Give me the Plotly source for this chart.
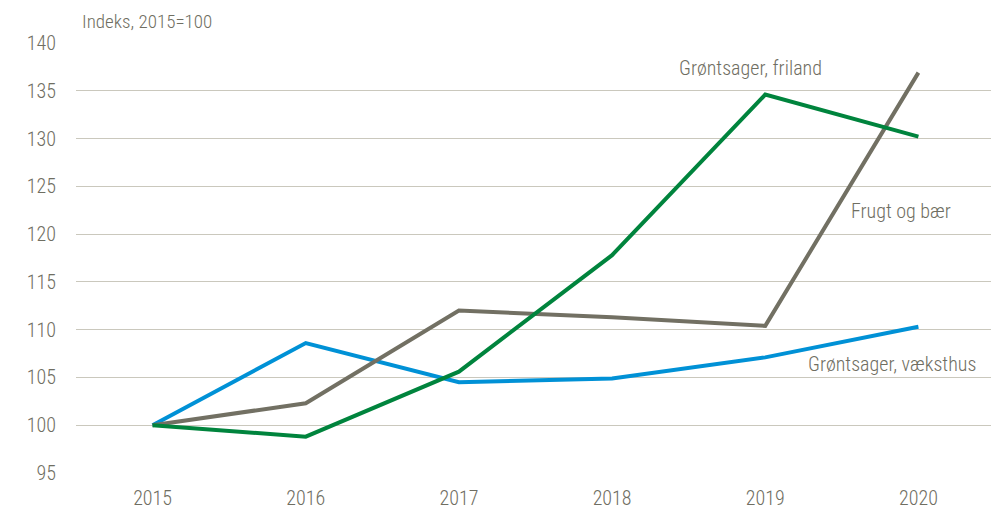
import plotly.graph_objects as go

years = ["2015", "2016", "2017", "2018", "2019", "2020"]
friland = [100, 98.8, 105.6, 117.8, 134.6, 130.2]
frugt = [100, 102.3, 112.0, 111.3, 110.4, 136.9]
vaeksthus = [100, 108.6, 104.5, 104.9, 107.1, 110.3]
y_ticks = [95, 100, 105, 110, 115, 120, 125, 130, 135, 140]

FONT = "Roboto Condensed, Arial Narrow, sans-serif"
TXT = "#6f6e62"
W = 300

def f(size):
    return dict(family=FONT, size=size, color=TXT, weight=W)

fig = go.Figure()
fig.add_trace(go.Scatter(x=years, y=vaeksthus, mode="lines", line=dict(color="#0091d6", width=4), name="Grøntsager, væksthus"))
fig.add_trace(go.Scatter(x=years, y=frugt, mode="lines", line=dict(color="#727063", width=4), name="Frugt og bær"))
fig.add_trace(go.Scatter(x=years, y=friland, mode="lines", line=dict(color="#00843d", width=4), name="Grøntsager, friland"))

fig.update_layout(
    width=991, height=505,
    margin=dict(l=68, r=4, t=35, b=40),
    paper_bgcolor="white", plot_bgcolor="white",
    showlegend=False,
    font=f(20),
    xaxis=dict(type="category", range=[-0.5, 5.5], showgrid=False, zeroline=False,
               showline=False, ticks="outside", ticklen=7, tickcolor="rgba(0,0,0,0)",
               automargin=False, tickfont=f(20)),
    yaxis=dict(range=[95, 140], tickvals=y_ticks, showgrid=True, gridcolor="#cac8bd",
               gridwidth=1.3, zeroline=False, showline=False, ticks="outside",
               ticklen=15, tickcolor="rgba(0,0,0,0)", automargin=False,
               tickfont=f(20)),
    annotations=[
        dict(text="Indeks, 2015=100", xref="paper", yref="paper", x=0.004, y=1.0, yshift=22,
             xanchor="left", yanchor="middle", showarrow=False, font=f(19)),
        dict(text="Grøntsager, friland", xref="paper", yref="paper", x=(750-76)/919, y=(473-68)/430,
             xanchor="center", yanchor="middle", showarrow=False, font=f(20)),
        dict(text="Frugt og bær", xref="paper", yref="paper", x=(901-76)/919, y=(473-211)/430,
             xanchor="center", yanchor="middle", showarrow=False, font=f(20)),
        dict(text="Grøntsager, væksthus", xref="paper", yref="paper", x=(892-76)/919, y=(473-364)/430,
             xanchor="center", yanchor="middle", showarrow=False, font=f(20)),
    ],
)

fig.write_html("out.html")
